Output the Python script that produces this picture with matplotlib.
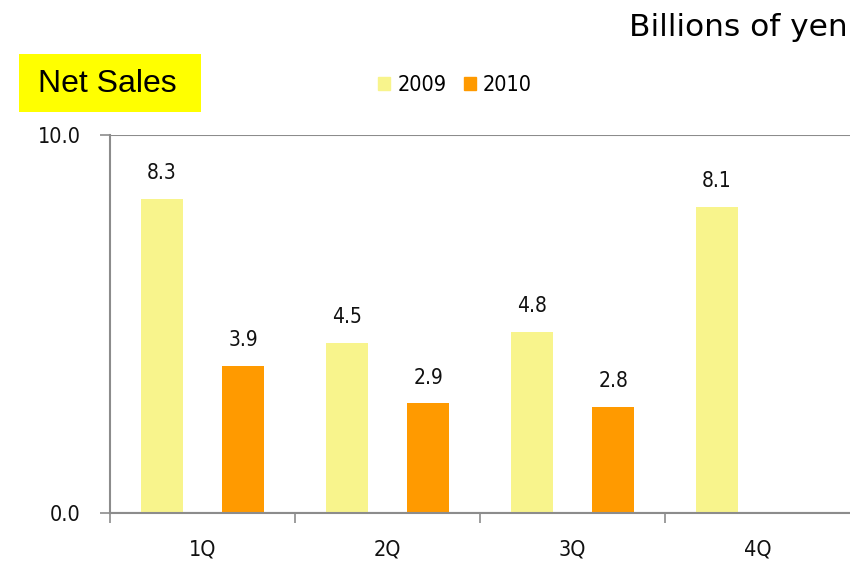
import numpy as np
import matplotlib.pyplot as plt
from matplotlib.patches import Patch, Rectangle

# quarterly net sales, billions of yen
quarters = ['1Q', '2Q', '3Q', '4Q']
sales_2009 = [8.3, 4.5, 4.8, 8.1]
sales_2010 = [3.9, 2.9, 2.8, None]

c09 = '#F8F48C'
c10 = '#FF9A00'
grey = '#8C8C8C'
ink = '#111111'
lab_font = dict(family='DejaVu Sans', fontstretch='condensed')

W, H = 850, 561
fig = plt.figure(figsize=(W/100, H/100), dpi=100)
ax = fig.add_axes([110/W, 48/H, 740/W, 378/H])

x = np.arange(len(quarters))
w = 0.23
off = 0.22

for i in range(len(quarters)):
    v = sales_2009[i]
    ax.bar(x[i] - off, v, w, color=c09, zorder=2)
    ax.text(x[i] - off, v + 0.42, '%.1f' % v, ha='center', va='bottom',
            fontsize=15, color=ink, **lab_font)
    v = sales_2010[i]
    if v is None:
        continue
    ax.bar(x[i] + off, v, w, color=c10, zorder=2)
    ax.text(x[i] + off, v + 0.42, '%.1f' % v, ha='center', va='bottom',
            fontsize=15, color=ink, **lab_font)

ax.set_xlim(-0.5, 3.5)
ax.set_ylim(0, 10)

ax.set_yticks([0, 10])
ax.set_yticklabels(['0.0', '10.0'], fontsize=15.5, color=ink, **lab_font)
ax.yaxis.grid(True, color=grey, linewidth=1.5, zorder=1)
ax.set_axisbelow(True)

# category boundaries carry the tick marks, names sit in between
ax.set_xticks(np.arange(-0.5, 3.0, 1.0))
ax.set_xticklabels([])
ax.set_xticks(x, minor=True)
ax.set_xticklabels(quarters, minor=True, fontsize=15.5, color=ink, **lab_font)
ax.tick_params(axis='x', which='major', length=7, color=grey, width=1.2)
ax.tick_params(axis='x', which='minor', length=0, pad=19)
ax.tick_params(axis='y', length=7, color=grey, width=1.2, pad=14)

for s in ['top', 'right']:
    ax.spines[s].set_visible(False)
for s in ['left', 'bottom']:
    ax.spines[s].set_color(grey)
    ax.spines[s].set_linewidth(1.5)

handles = [Patch(color=c09, label='2009'), Patch(color=c10, label='2010')]
fig.legend(handles=handles, loc='center', bbox_to_anchor=(455/W, 1 - 85/H),
           ncol=2, frameon=False, prop=dict(family='DejaVu Sans', size=15.5, stretch='condensed'),
           handlelength=0.55, handleheight=0.55, handletextpad=0.35, columnspacing=0.8)

fig.patches.append(Rectangle((19/W, 1 - 112/H), 182/W, 58/H, transform=fig.transFigure,
                             facecolor='#FFFF00', edgecolor='none'))
fig.text(38/W, 1 - 84/H, 'Net Sales', fontsize=23, family='Liberation Sans',
         va='center', ha='left')

fig.text(848/W, 1 - 28/H, 'Billions of yen', fontsize=22.5, family='DejaVu Sans',
         ha='right', va='center')

plt.savefig('out.png', dpi=100)
